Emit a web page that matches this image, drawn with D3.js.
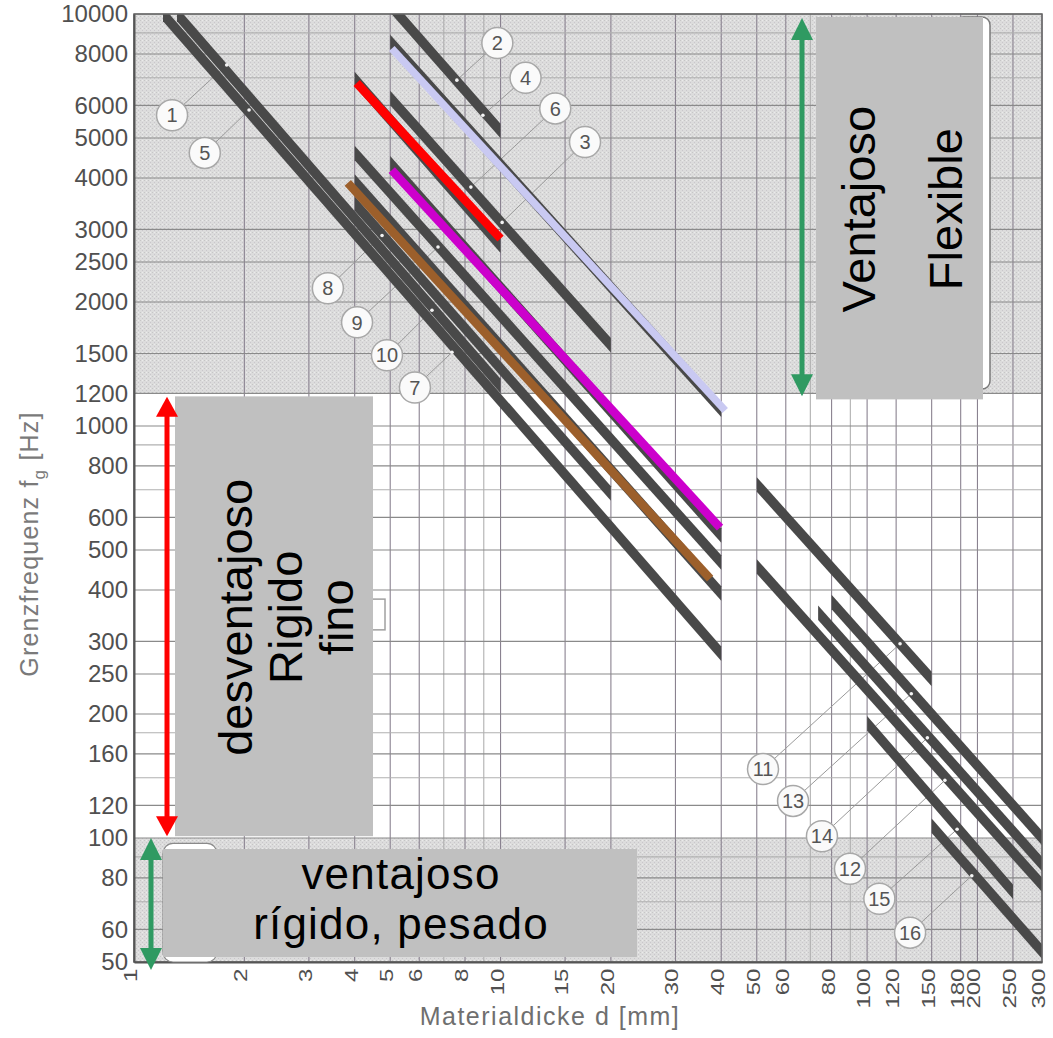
<!DOCTYPE html>
<html>
<head>
<meta charset="utf-8">
<script src="https://cdn.jsdelivr.net/npm/d3@7"></script>
<style>
  body { margin: 0; background: #fff; }
  svg text { font-family: "Liberation Sans", Arial, sans-serif; }
</style>
</head>
<body>
<svg id="chart" width="1053" height="1038"></svg>
<script>
// Tick labels and grid lines (thickness in mm, frequency in Hz)
const xTicks = [1, 2, 3, 4, 5, 6, 8, 10, 15, 20, 30, 40, 50, 60, 80, 100, 120, 150, 180, 200, 250, 300];
const yTicks = [10000, 8000, 6000, 5000, 4000, 3000, 2500, 2000, 1500, 1200, 1000, 800, 600, 500, 400, 300, 250, 200, 160, 120, 100, 80, 60, 50];
const xGrid = [1, 2, 3, 4, 5, 6, 7, 8, 9, 10, 15, 20, 30, 40, 50, 60, 70, 80, 90, 100, 120, 150, 180, 200, 250, 300];
const yGrid = [50, 60, 70, 80, 90, 100, 120, 140, 160, 180, 200, 250, 300, 400, 500, 600, 700, 800, 900,
               1000, 1200, 1500, 2000, 2500, 3000, 4000, 5000, 6000, 7000, 8000, 9000, 10000];

// Shaded frequency bands [low, high]
const shadedBands = [[1200, 10000], [50, 100]];

// Material curves: [d start, fg start, d end, fg end]
const curves = [
  [1.31, 10000, 10, 1250],   // 5
  [1.2, 10000, 40, 280],     // 1
  [5, 10500, 10, 5200],      // 2
  [5, 8550, 40, 1095],       // 4
  [5, 6250, 20, 1570],       // 6
  [4, 6950, 10, 2740],
  [5, 4340, 40, 542],
  [4, 4600, 40, 466],
  [4, 3920, 40, 392],
  [4, 3470, 20, 686],
  [50, 721, 150, 243],
  [80, 374, 300, 100],
  [73.5, 352, 300, 86.5],
  [50, 456, 300, 77],
  [100, 190, 250, 74],
  [150, 107, 300, 53]
];

// Coloured highlight strokes drawn over some curves
const highlightColors = ["#ff0000", "#c9c9f2", "#cc00cc", "#9c5f2b"];
const highlights = [
  [4.05, 6800, 10, 2850],
  [5.05, 8250, 41, 1090],
  [5.05, 4180, 39.7, 567],
  [3.83, 3890, 37.3, 426]
];

// Numbered callouts: label, bubble (d, fg), target on curve (d, fg)
const calloutLabels = ["1", "5", "2", "4", "6", "3", "8", "9", "10", "7", "11", "13", "14", "12", "15", "16"];
const calloutBubbles = [
  [1.27, 5680], [1.56, 4600], [9.8, 8500], [11.7, 7000], [14.1, 5900], [17, 4890],
  [3.38, 2160], [4.06, 1785], [4.9, 1485], [5.84, 1240],
  [52, 147], [62.8, 123], [75.3, 101], [89.8, 84.2], [108, 71.2], [131, 58.9]
];
const calloutTargets = [
  [1.79, 7520], [2.06, 5850], [7.6, 6910], [8.95, 5680], [8.3, 3800], [10.1, 3120],
  [4.75, 2900], [6.75, 2720], [6.5, 1910], [7.37, 1510],
  [123, 296], [132, 224], [146, 175], [163, 138], [176, 105], [193, 81]
];

const plot = { left: 134, right: 1042, top: 14, bottom: 962 };

const svg = d3.select("#chart");

const x = d3.scaleLog().domain([1, 300]).range([plot.left, plot.right]);
const y = d3.scaleLog().domain([50, 10000]).range([plot.bottom, plot.top]);

// Stipple pattern for the shaded bands
const defs = svg.append("defs");
const pat = defs.append("pattern")
    .attr("id", "stipple")
    .attr("width", 4).attr("height", 4)
    .attr("patternUnits", "userSpaceOnUse");
pat.append("rect").attr("width", 4).attr("height", 4).attr("fill", "#dcdcdc");
pat.append("rect").attr("x", 0).attr("y", 0).attr("width", 1).attr("height", 1).attr("fill", "#c6c6c6");
pat.append("rect").attr("x", 2).attr("y", 2).attr("width", 1).attr("height", 1).attr("fill", "#c9c6cb");
pat.append("rect").attr("x", 2).attr("y", 0).attr("width", 1).attr("height", 1).attr("fill", "#ebebeb");

defs.append("clipPath").attr("id", "plotclip")
  .append("rect")
    .attr("x", plot.left).attr("y", plot.top)
    .attr("width", plot.right - plot.left).attr("height", plot.bottom - plot.top);

// Shaded bands
svg.append("g").selectAll("rect")
  .data(shadedBands)
  .enter().append("rect")
    .attr("x", plot.left)
    .attr("width", plot.right - plot.left)
    .attr("y", d => y(d[1]))
    .attr("height", d => y(d[0]) - y(d[1]))
    .attr("fill", "url(#stipple)");

// Grid
const grid = svg.append("g");
grid.selectAll(".vgrid")
  .data(xGrid)
  .enter().append("line")
    .attr("x1", d => x(d)).attr("x2", d => x(d))
    .attr("y1", plot.top).attr("y2", plot.bottom)
    .attr("stroke", d => xTicks.includes(d) ? "#8a8290" : "#b0b0b0")
    .attr("stroke-width", 1.1);
grid.selectAll(".hgrid")
  .data(yGrid)
  .enter().append("line")
    .attr("x1", plot.left).attr("x2", plot.right)
    .attr("y1", d => y(d)).attr("y2", d => y(d))
    .attr("stroke", d => yTicks.includes(d) ? "#8a8a8a" : "#b0b0b0")
    .attr("stroke-width", 1.1);

const plotArea = svg.append("g").attr("clip-path", "url(#plotclip)");

// Callout leader lines (under the curves)
const idx = d3.range(calloutLabels.length);
plotArea.append("g").selectAll("line")
  .data(idx)
  .enter().append("line")
    .attr("x1", i => x(calloutBubbles[i][0]))
    .attr("y1", i => y(calloutBubbles[i][1]))
    .attr("x2", i => x(calloutTargets[i][0]))
    .attr("y2", i => y(calloutTargets[i][1]))
    .attr("stroke", "#9a9a9a")
    .attr("stroke-width", 1);

// Material curves: thick bands with vertical cut ends
const thick = 14.5;
const band = d3.line();
plotArea.append("g").selectAll("path")
  .data(curves)
  .enter().append("path")
    .attr("d", c => {
      const x0 = x(c[0]), y0 = y(c[1]), x1 = x(c[2]), y1 = y(c[3]);
      return band([[x0, y0 - thick / 2], [x1, y1 - thick / 2], [x1, y1 + thick / 2], [x0, y0 + thick / 2]]) + "Z";
    })
    .attr("fill", "#494949");

// Coloured highlights
plotArea.append("g").selectAll("line")
  .data(highlights)
  .enter().append("line")
    .attr("x1", c => x(c[0])).attr("y1", c => y(c[1]))
    .attr("x2", c => x(c[2])).attr("y2", c => y(c[3]))
    .attr("stroke", (c, i) => highlightColors[i])
    .attr("stroke-width", (c, i) => i === 1 ? 7.5 : 8.5);

// small white dots where leaders meet the curves
plotArea.append("g").selectAll("circle")
  .data(calloutTargets)
  .enter().append("circle")
    .attr("cx", t => x(t[0])).attr("cy", t => y(t[1]))
    .attr("r", 1.8)
    .attr("fill", "#f4f4f4");

// Callout bubbles
const bubbles = svg.append("g").selectAll("g")
  .data(idx)
  .enter().append("g")
    .attr("transform", i => `translate(${x(calloutBubbles[i][0])},${y(calloutBubbles[i][1])})`);
bubbles.append("circle")
    .attr("r", 15.5)
    .attr("fill", "#fafafa")
    .attr("stroke", "#a8a8a8")
    .attr("stroke-width", 1.5);
bubbles.append("text")
    .attr("text-anchor", "middle")
    .attr("dy", "0.36em")
    .attr("font-size", 20)
    .attr("fill", "#555")
    .text(i => calloutLabels[i]);

// Frame
svg.append("rect")
    .attr("x", plot.left).attr("y", plot.top)
    .attr("width", plot.right - plot.left).attr("height", plot.bottom - plot.top)
    .attr("fill", "none")
    .attr("stroke", "#666")
    .attr("stroke-width", 1.5);

// Axes
const yAxis = svg.append("g")
    .attr("transform", `translate(${plot.left},0)`)
    .call(d3.axisLeft(y).tickValues(yTicks).tickFormat(d3.format("d")).tickSize(0).tickPadding(6));
yAxis.select(".domain").attr("stroke", "#555").attr("stroke-width", 2);
yAxis.selectAll("text")
    .attr("font-size", 24)
    .attr("fill", "#505050")
    .style("font-family", "'Liberation Sans', Arial, sans-serif");

// x labels: rotated, narrow in the cross direction so close ticks do not collide
const xAxis = svg.append("g")
    .attr("transform", `translate(0,${plot.bottom})`)
    .call(d3.axisBottom(x).tickValues(xTicks).tickFormat(d3.format("d")).tickSize(0));
xAxis.select(".domain").attr("stroke", "#555").attr("stroke-width", 2);
xAxis.selectAll("text")
    .attr("transform", "rotate(-90) scale(1.3,1)")
    .attr("x", -5)
    .attr("y", -4)
    .attr("dy", "0.35em")
    .attr("text-anchor", "end")
    .attr("font-size", 18.5)
    .attr("fill", "#505050")
    .style("font-family", "'Liberation Sans', Arial, sans-serif");

// Axis titles
const yTitle = svg.append("text")
    .attr("transform", `translate(38,${y(500) - 6}) rotate(-90)`)
    .attr("text-anchor", "middle")
    .attr("font-size", 25)
    .attr("letter-spacing", 1.2)
    .attr("fill", "#7a7a7a");
yTitle.append("tspan").text("Grenzfrequenz f");
yTitle.append("tspan").attr("font-size", 17).attr("dy", 7).text("g");
yTitle.append("tspan").attr("dy", -7).text(" [Hz]");

svg.append("text")
    .attr("x", 550)
    .attr("y", 1025)
    .attr("text-anchor", "middle")
    .attr("font-size", 25)
    .attr("letter-spacing", 1.5)
    .attr("fill", "#6f6f6f")
    .text("Materialdicke d [mm]");

// White brackets partly hidden behind the grey boxes
svg.append("rect")
    .attr("x", 955).attr("y", y(10000) + 3)
    .attr("width", 35).attr("height", y(1250) - y(10000))
    .attr("rx", 8)
    .attr("fill", "#fff").attr("stroke", "#7a7a7a").attr("stroke-width", 1.5);
svg.append("rect")
    .attr("x", 163).attr("y", y(97))
    .attr("width", 54).attr("height", y(50) - y(97))
    .attr("rx", 10)
    .attr("fill", "#fff").attr("stroke", "#8a8a8a").attr("stroke-width", 1.2);
svg.append("rect")
    .attr("x", 362).attr("y", y(380))
    .attr("width", 23).attr("height", y(320) - y(380))
    .attr("fill", "#fff").attr("stroke", "#a0a0a0").attr("stroke-width", 1.5);

// Grey note boxes
const boxFill = "#c0c0c0";
const bigFont = 47;

// top right: Ventajoso / Flexible
svg.append("rect")
    .attr("x", 816).attr("y", y(10000) + 3)
    .attr("width", 167).attr("height", y(1180) - y(10000))
    .attr("fill", boxFill);
[["Ventajoso", 875], ["Flexible", 962]].forEach(([t, bx]) => {
  svg.append("text")
      .attr("transform", `translate(${bx},${(y(10000) + y(1180)) / 2 + 4}) rotate(-90)`)
      .attr("text-anchor", "middle")
      .attr("font-size", bigFont)
      .attr("fill", "#000")
      .text(t);
});

// left: desventajoso / Rigido / fino
svg.append("rect")
    .attr("x", 175).attr("y", y(1180))
    .attr("width", 198).attr("height", y(101) - y(1180))
    .attr("fill", boxFill);
[["desventajoso", 252], ["Rigido", 302], ["fino", 353]].forEach(([t, bx]) => {
  svg.append("text")
      .attr("transform", `translate(${bx},${(y(1180) + y(101)) / 2 + 1}) rotate(-90)`)
      .attr("text-anchor", "middle")
      .attr("font-size", bigFont)
      .attr("fill", "#000")
      .text(t);
});

// bottom: ventajoso / rígido, pesado (slightly smaller so the two lines do not collide)
svg.append("rect")
    .attr("x", 163).attr("y", y(100) + 11)
    .attr("width", 474).attr("height", y(50) - y(100) - 16)
    .attr("fill", boxFill);
[["ventajoso", 889], ["rígido, pesado", 939]].forEach(([t, by]) => {
  svg.append("text")
      .attr("x", 401).attr("y", by)
      .attr("text-anchor", "middle")
      .attr("font-size", 44)
      .attr("letter-spacing", 1.2)
      .attr("fill", "#000")
      .text(t);
});

// Double arrows marking frequency ranges
function doubleArrow(ax, yTop, yBot, color, shaft, head, headLen) {
  const g = svg.append("g");
  g.append("line")
      .attr("x1", ax).attr("x2", ax)
      .attr("y1", yTop + headLen - 2).attr("y2", yBot - headLen + 2)
      .attr("stroke", color).attr("stroke-width", shaft);
  g.append("path")
      .attr("d", `M${ax},${yTop} L${ax - head / 2},${yTop + headLen} L${ax + head / 2},${yTop + headLen} Z`)
      .attr("fill", color);
  g.append("path")
      .attr("d", `M${ax},${yBot} L${ax - head / 2},${yBot - headLen} L${ax + head / 2},${yBot - headLen} Z`)
      .attr("fill", color);
}
doubleArrow(802, y(10000) + 4, y(1180), "#2f9a62", 5, 22, 22);
doubleArrow(167, y(1190) + 2, y(101), "#ff0000", 5, 22, 20);
doubleArrow(151, y(100), y(50) + 8, "#2f9a62", 5, 22, 22);
</script>
</body>
</html>
